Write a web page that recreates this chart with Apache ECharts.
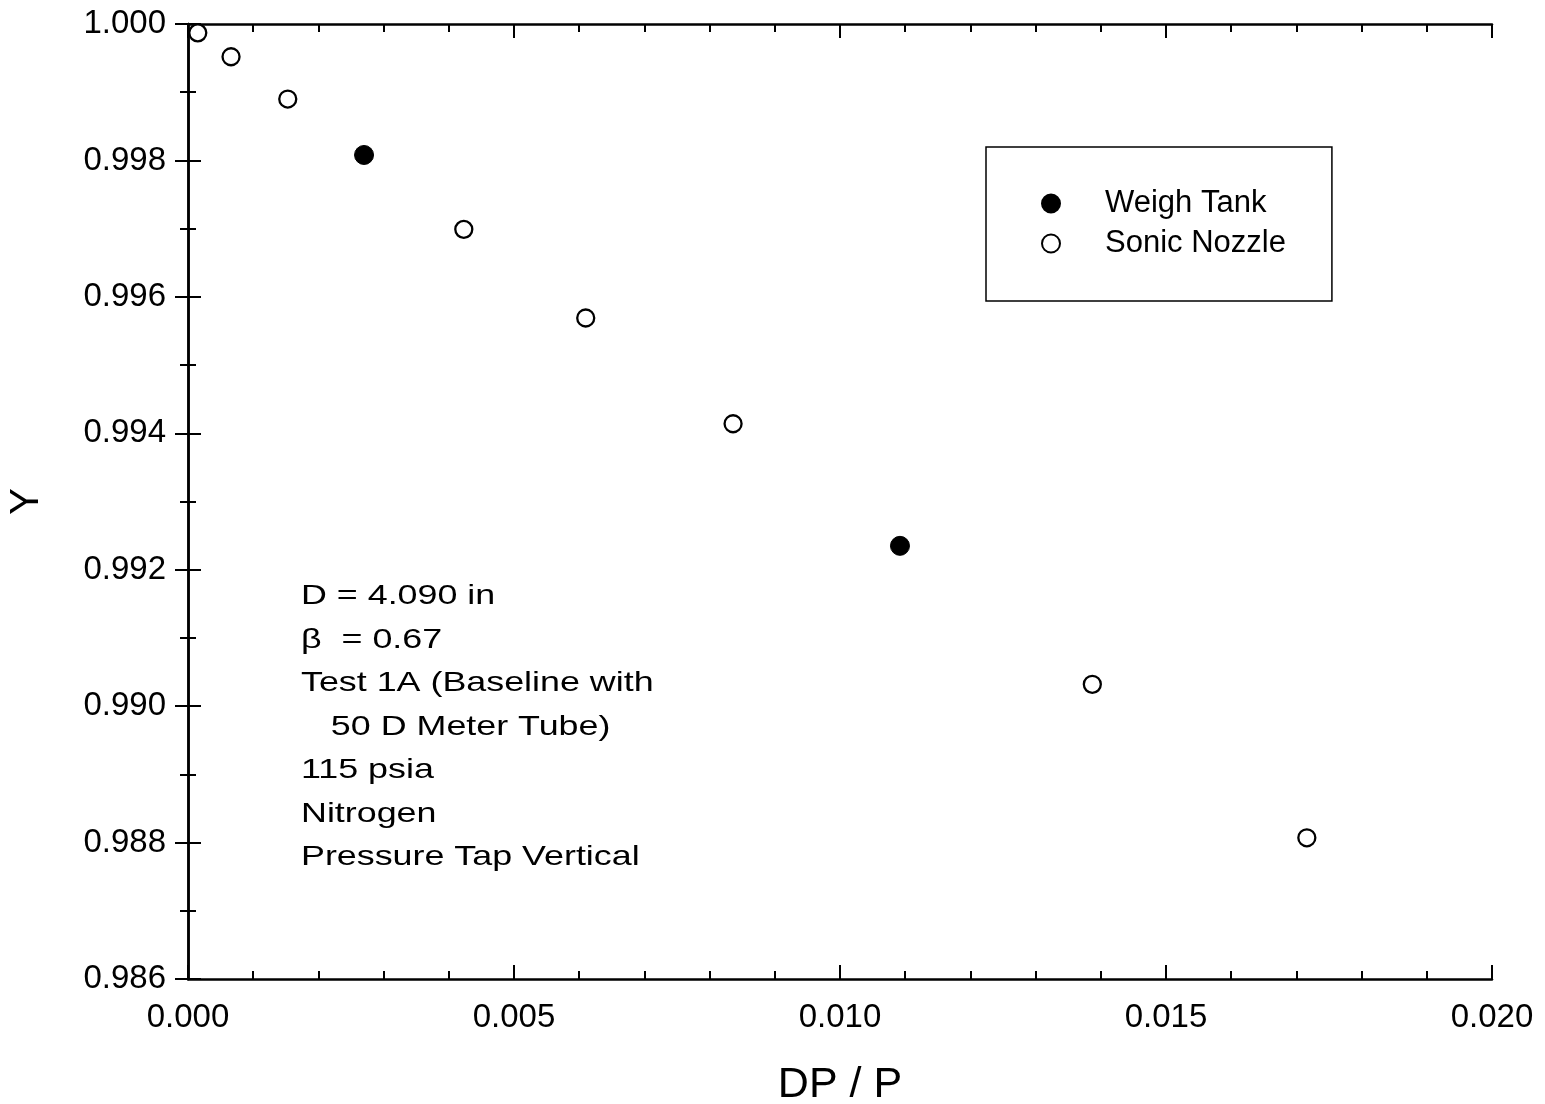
<!DOCTYPE html>
<html>
<head>
<meta charset="utf-8">
<script src="https://cdn.jsdelivr.net/npm/echarts@6/dist/echarts.min.js"></script>
<style>
html,body{margin:0;padding:0;background:#fff;}
#chart{width:1545px;height:1104px;}
</style>
</head>
<body>
<div id="chart"></div>
<script>
// ---- data ----
const seriesNames = ['Weigh Tank', 'Sonic Nozzle'];
const weighTankX = [0.00270, 0.01092];
const weighTankY = [0.99808, 0.99235];
const sonicNozzleX = [0.00015, 0.00066, 0.00153, 0.00423, 0.00610, 0.00836, 0.01387, 0.01716];
const sonicNozzleY = [0.99987, 0.99952, 0.99890, 0.99699, 0.99569, 0.99414, 0.99032, 0.98807];
const xTickLabels = ['0.000', '0.005', '0.010', '0.015', '0.020'];
const yTickLabels = ['0.986', '0.988', '0.990', '0.992', '0.994', '0.996', '0.998', '1.000'];
const xTitle = 'DP / P';
const yTitle = 'Y';
const noteLines = ['D = 4.090 in', 'β  = 0.67', 'Test 1A (Baseline with', '   50 D Meter Tube)', '115 psia', 'Nitrogen', 'Pressure Tap Vertical'];

function pick(labels, v) {
  let best = labels[0], d = Infinity;
  labels.forEach(l => { const dd = Math.abs(parseFloat(l) - v); if (dd < d) { d = dd; best = l; } });
  return d < 1e-6 ? best : '';
}

const FONT = '"Liberation Sans", Arial, Helvetica, sans-serif';
const chart = echarts.init(document.getElementById('chart'));
const BLACK = '#000';
const lineOn = { show: true, lineStyle: { color: BLACK, width: 2.5 } };
const lineOff = { show: false };
const noLabel = { show: false };

function xAx(position, interval, tickLen, showLine, extra) {
  return Object.assign({
    type: 'value', min: 0, max: 0.02, interval: interval, position: position,
    axisLine: showLine ? lineOn : lineOff, splitLine: { show: false },
    axisTick: { show: true, inside: true, length: tickLen, lineStyle: { color: BLACK, width: 2 } },
    axisLabel: noLabel
  }, extra || {});
}
function yAx(position, interval, tickLen, showLine, extra) {
  return Object.assign({
    type: 'value', min: 0.986, max: 1.0, interval: interval, position: position,
    axisLine: showLine ? lineOn : lineOff, splitLine: { show: false },
    axisTick: { show: true, inside: true, length: tickLen, lineStyle: { color: BLACK, width: 2 } },
    axisLabel: noLabel
  }, extra || {});
}

chart.setOption({
  animation: false,
  backgroundColor: '#fff',
  grid: { left: 188, right: 53, top: 24, bottom: 125, containLabel: false, outerBoundsMode: 'none' },
  xAxis: [
    xAx('bottom', 0.005, 14, true, {
      name: xTitle, nameLocation: 'middle', nameGap: 85,
      nameTextStyle: { fontFamily: FONT, fontSize: 43, color: BLACK },
      axisLabel: { show: true, margin: 22, fontFamily: FONT, fontSize: 33, color: BLACK,
        formatter: v => pick(xTickLabels, v) }
    }),
    xAx('bottom', 0.001, 8, false),
    xAx('top', 0.005, 14, true),
    xAx('top', 0.001, 8, false)
  ],
  yAxis: [
    yAx('left', 0.002, 13, true, {
      name: yTitle, nameLocation: 'middle', nameGap: 141, nameRotate: 90,
      nameTextStyle: { fontFamily: FONT, fontSize: 40, color: BLACK },
      axisLabel: { show: true, margin: 22, fontFamily: FONT, fontSize: 33, color: BLACK,
        formatter: v => pick(yTickLabels, v) }
    }),
    yAx('left', 0.001, 8, false),
    yAx('right', 0.002, 13, true),
    yAx('right', 0.001, 8, false)
  ],
  legend: {
    orient: 'vertical', left: 986, top: 147,
    padding: [41, 46, 42, 55],
    itemGap: 9, itemWidth: 18, itemHeight: 18,
    borderColor: BLACK, borderWidth: 1.5, borderRadius: 0,
    backgroundColor: '#fff',
    textStyle: { fontFamily: FONT, fontSize: 31, color: BLACK, padding: [0, 0, 0, 40] },
    data: seriesNames
  },
  series: [
    {
      name: seriesNames[0], type: 'scatter', xAxisIndex: 0, yAxisIndex: 0,
      symbol: 'circle', symbolSize: 19,
      itemStyle: { color: BLACK, borderColor: BLACK, borderWidth: 1, opacity: 1 },
      data: weighTankX.map((x, i) => [x, weighTankY[i]])
    },
    {
      name: seriesNames[1], type: 'scatter', xAxisIndex: 0, yAxisIndex: 0,
      symbol: 'circle', symbolSize: 17,
      itemStyle: { color: '#fff', borderColor: BLACK, borderWidth: 2.3, opacity: 1 },
      data: sonicNozzleX.map((x, i) => [x, sonicNozzleY[i]])
    }
  ],
  graphic: [
    {
      type: 'text', left: 301, top: 575, scaleX: 1.28, scaleY: 1,
      style: { text: noteLines.join('\n'), fontFamily: FONT, fontSize: 28, lineHeight: 43.5, fill: BLACK }
    }
  ]
});
</script>
</body>
</html>
